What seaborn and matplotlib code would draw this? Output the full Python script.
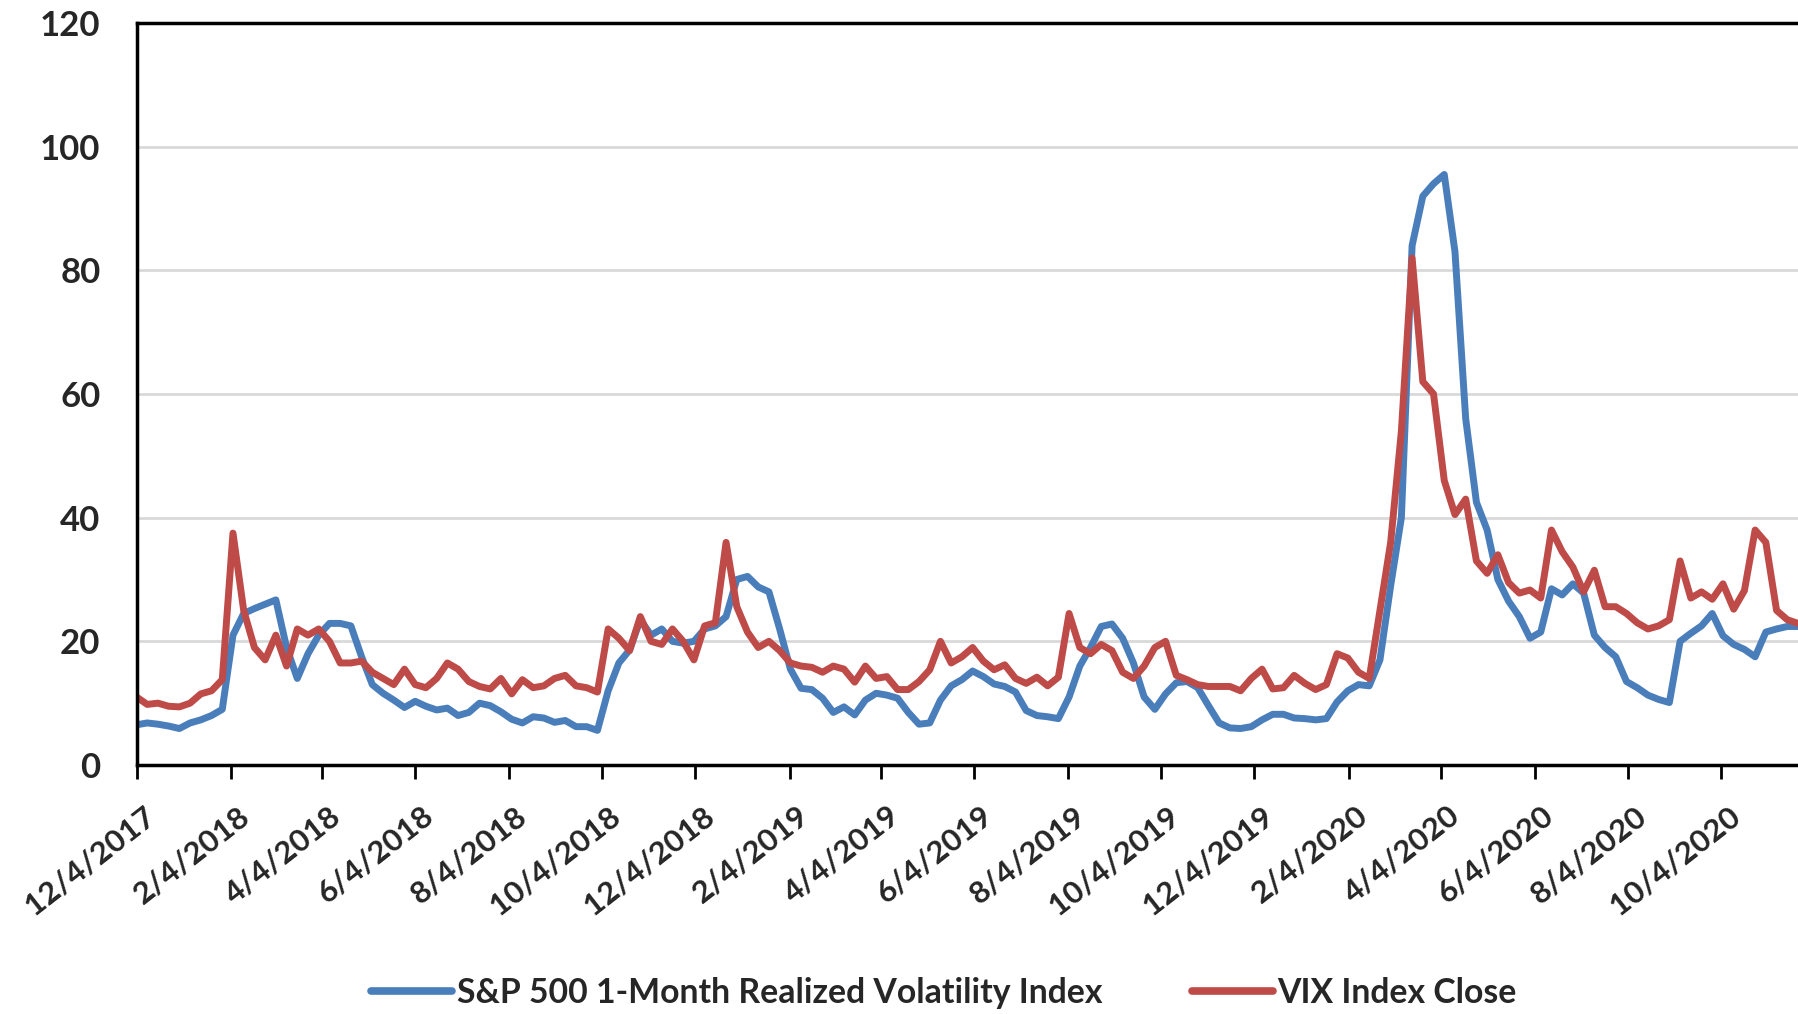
import numpy as np
import pandas as pd
import matplotlib
matplotlib.use("Agg")
import matplotlib.pyplot as plt
import matplotlib.transforms as mtransforms
from matplotlib.lines import Line2D
import seaborn as sns

# Weekly observations (Mondays) starting 12/4/2017
week_start = "2017-12-04"

realized_vol = [
    6.5, 6.8, 6.6, 6.3, 5.9, 6.8, 7.3, 8.0, 9.0, 21.0,
    24.5, 25.3, 26.0, 26.7, 19.0, 14.0, 18.0, 21.0, 22.9, 22.9,
    22.5, 17.5, 13.0, 11.6, 10.5, 9.3, 10.3, 9.5, 8.9, 9.2,
    8.0, 8.5, 10.0, 9.6, 8.6, 7.4, 6.8, 7.8, 7.6, 6.9,
    7.2, 6.2, 6.2, 5.6, 12.0, 16.5, 18.6, 23.5, 21.0, 22.0,
    20.0, 19.7, 20.0, 22.0, 22.5, 24.0, 30.0, 30.5, 28.8, 28.0,
    22.0, 15.5, 12.4, 12.2, 10.8, 8.5, 9.4, 8.1, 10.5, 11.6,
    11.3, 10.8, 8.5, 6.6, 6.8, 10.5, 12.8, 13.8, 15.2, 14.3,
    13.1, 12.7, 11.8, 8.8, 8.0, 7.8, 7.5, 11.0, 16.0, 19.0,
    22.4, 22.8, 20.5, 16.5, 11.0, 9.0, 11.5, 13.3, 13.5, 12.5,
    9.6, 6.8, 6.0, 5.9, 6.2, 7.3, 8.2, 8.2, 7.6, 7.5,
    7.3, 7.5, 10.2, 12.0, 13.0, 12.8, 17.0, 29.0, 40.0, 84.0,
    92.0, 94.0, 95.5, 83.0, 56.0, 42.5, 38.0, 30.0, 26.5, 24.0,
    20.5, 21.5, 28.5, 27.5, 29.3, 27.8, 21.0, 19.0, 17.5, 13.5,
    12.5, 11.3, 10.6, 10.1, 20.0, 21.3, 22.5, 24.5, 20.9, 19.5,
    18.7, 17.5, 21.5, 22.0, 22.4, 22.4,
]

vix_close = [
    11.0, 9.8, 10.0, 9.5, 9.4, 10.0, 11.5, 12.0, 13.8, 37.5,
    25.0, 19.0, 17.0, 21.0, 16.0, 22.0, 21.0, 22.0, 20.0, 16.5,
    16.5, 16.8, 15.0, 14.0, 13.0, 15.5, 13.0, 12.5, 14.0, 16.5,
    15.5, 13.5, 12.7, 12.3, 14.0, 11.5, 13.8, 12.5, 12.8, 14.0,
    14.5, 12.8, 12.5, 11.8, 22.0, 20.5, 18.5, 24.0, 20.0, 19.5,
    22.0, 20.0, 17.0, 22.5, 23.0, 36.0, 25.6, 21.5, 19.0, 20.0,
    18.5, 16.5, 16.0, 15.8, 15.0, 16.0, 15.5, 13.4, 16.0, 14.0,
    14.3, 12.2, 12.2, 13.5, 15.4, 20.0, 16.5, 17.5, 19.0, 16.8,
    15.4, 16.2, 14.0, 13.2, 14.2, 12.8, 14.2, 24.5, 19.0, 18.0,
    19.5, 18.5, 15.0, 14.0, 16.0, 19.0, 20.0, 14.5, 13.8, 13.0,
    12.7, 12.7, 12.7, 12.0, 14.0, 15.5, 12.3, 12.5, 14.5, 13.2,
    12.2, 13.0, 18.0, 17.3, 15.0, 14.0, 25.0, 36.0, 54.0, 82.0,
    62.0, 60.0, 46.0, 40.5, 43.0, 33.0, 31.0, 34.0, 29.5, 27.8,
    28.3, 27.0, 38.0, 34.5, 32.0, 28.0, 31.5, 25.6, 25.6, 24.5,
    23.0, 22.0, 22.5, 23.5, 33.0, 27.0, 28.0, 26.8, 29.3, 25.2,
    28.2, 38.0, 36.0, 25.0, 23.5, 22.9,
]

tick_dates = [
    "2017-12-04", "2018-02-04", "2018-04-04", "2018-06-04", "2018-08-04",
    "2018-10-04", "2018-12-04", "2019-02-04", "2019-04-04", "2019-06-04",
    "2019-08-04", "2019-10-04", "2019-12-04", "2020-02-04", "2020-04-04",
    "2020-06-04", "2020-08-04", "2020-10-04",
]
x_end = "2020-11-23"
y_ticks = [0, 20, 40, 60, 80, 100, 120]

series_names = ["S&P 500 1-Month Realized Volatility Index", "VIX Index Close"]
series_colors = ["#4A7EBB", "#BE4B48"]

# Long-form table for seaborn
dates = pd.date_range(week_start, periods=len(realized_vol), freq="7D")
df = pd.DataFrame({
    "date": list(dates) + list(dates),
    "value": realized_vol + vix_close,
    "series": [series_names[0]] * len(realized_vol) + [series_names[1]] * len(vix_close),
})

sns.set_theme(style="white")
plt.rcParams["font.family"] = ["Lato", "DejaVu Sans"]
plt.rcParams["font.weight"] = "bold"

W, H = 1798, 1014
fig = plt.figure(figsize=(W / 100, H / 100), dpi=100)
fig.patch.set_facecolor("white")

left_px, top_px, bottom_px = 136.5, 23, 765
ax = fig.add_axes([left_px / W, 1 - bottom_px / H, 1 - left_px / W, (bottom_px - top_px) / H])

sns.lineplot(
    data=df, x="date", y="value", hue="series", hue_order=series_names,
    palette=dict(zip(series_names, series_colors)), linewidth=5.0,
    ax=ax, legend=False, estimator=None,
)

ax.set_xlim(pd.Timestamp(week_start), pd.Timestamp(x_end))
ax.set_ylim(0, 120)
ax.set_xlabel("")
ax.set_ylabel("")

# Horizontal gridlines
ax.set_yticks(y_ticks)
ax.yaxis.grid(True, color="#D9D9D9", linewidth=2)
ax.xaxis.grid(False)
ax.set_axisbelow(True)

tick_ts = pd.to_datetime(tick_dates)
ax.set_xticks(tick_ts)
ax.set_xticklabels([f"{d.month}/{d.day}/{d.year}" for d in tick_ts])

ax.tick_params(axis="x", direction="out", length=10, width=2, color="black",
               pad=24, labelsize=22.5, bottom=True)
ax.tick_params(axis="y", length=0, pad=26, labelsize=25)

for lbl in ax.get_xticklabels():
    lbl.set_rotation(38)
    lbl.set_rotation_mode("anchor")
    lbl.set_ha("right")
    lbl.set_va("center")
    lbl.set_fontweight("bold")
    lbl.set_transform(lbl.get_transform() + mtransforms.ScaledTranslation(15 / 100, 0, fig.dpi_scale_trans))
for lbl in ax.get_yticklabels():
    lbl.set_fontweight("bold")

for side in ["left", "bottom", "top"]:
    ax.spines[side].set_visible(True)
    ax.spines[side].set_color("black")
    ax.spines[side].set_linewidth(2.5)
ax.spines["right"].set_visible(False)

handles = [Line2D([0], [0], color=c, linewidth=5.5) for c in series_colors]
fig.legend(
    handles, series_names, loc="center", bbox_to_anchor=(944 / W, 1 - 993 / H),
    ncol=2, frameon=False, prop={"size": 24.3, "weight": "bold"},
    handlelength=2.4, handletextpad=0.15, columnspacing=2.64,
)

fig.savefig("out.png", dpi=100, facecolor="white")
